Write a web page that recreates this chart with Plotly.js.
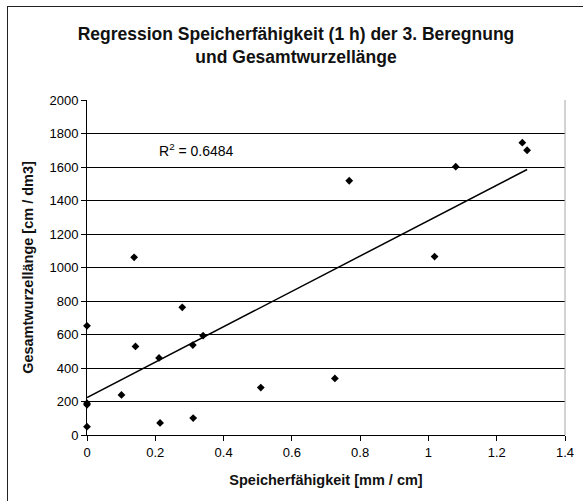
<!DOCTYPE html>
<html>
<head>
<meta charset="utf-8">
<script src="https://cdn.plot.ly/plotly-3.0.1.min.js"></script>
<style>
  html, body { margin: 0; padding: 0; background: #fff; }
  #chart { position: absolute; left: 0; top: 0; width: 583px; height: 501px; }
  #frame { position: absolute; left: 7px; top: 6px; width: 620px; height: 540px;
           border: 1px solid #222; pointer-events: none; }
</style>
</head>
<body>
<div id="chart"></div>
<div id="frame"></div>
<script>
// Speicherfähigkeit [mm / cm]
const speicher = [0.768, 0.138, 0, 0.279, 0.142, 0.340, 0.310, 0.211, 0.101, 0, 0, 0,
                  0.214, 0.311, 0.509, 0.726, 1.080, 1.275, 1.289, 1.018];
// Gesamtwurzellänge [cm / dm3]
const wurzel = [1518, 1061, 652, 762, 529, 593, 537, 460, 239, 190, 180, 50,
                72, 101, 283, 338, 1602, 1745, 1700, 1065];
const r2Text = 'R<sup>2</sup> = 0.6484';
const titleText = 'Regression Speicherfähigkeit (1 h) der 3. Beregnung<br>und Gesamtwurzellänge';
const xTitle = 'Speicherfähigkeit [mm / cm]';
const yTitle = 'Gesamtwurzellänge [cm / dm3]';

// linear least-squares trendline derived from data
const n = speicher.length;
const mx = speicher.reduce((a, b) => a + b, 0) / n;
const my = wurzel.reduce((a, b) => a + b, 0) / n;
let sxy = 0, sxx = 0;
for (let i = 0; i < n; i++) { sxy += (speicher[i] - mx) * (wurzel[i] - my); sxx += (speicher[i] - mx) ** 2; }
const slope = sxy / sxx;
const intercept = my - slope * mx;
const xMin = Math.min(...speicher), xMax = Math.max(...speicher);
const trendX = [xMin, xMax];
const trendY = trendX.map(v => intercept + slope * v);

const font = 'Liberation Sans, Arial, sans-serif';

const data = [
  { x: trendX, y: trendY, type: 'scatter', mode: 'lines',
    line: { color: '#000', width: 1.5 }, hoverinfo: 'skip', showlegend: false },
  { x: speicher, y: wurzel, type: 'scatter', mode: 'markers', cliponaxis: false,
    marker: { symbol: 'diamond', size: 6, color: '#000' }, showlegend: false }
];

const layout = {
  width: 583, height: 501,
  margin: { l: 87, r: 18, t: 100, b: 66 },
  paper_bgcolor: '#fff', plot_bgcolor: '#fff',
  font: { family: font, size: 13, color: '#000' },
  title: { text: titleText, font: { family: font, size: 17.5, color: '#111', weight: 'bold' },
           x: 296 / 583, xanchor: 'center', xref: 'container',
           y: 1 - 40 / 501, yanchor: 'top', yref: 'container' },
  xaxis: {
    range: [0, 1.4], dtick: 0.2, tick0: 0,
    showgrid: false, zeroline: false,
    showline: true, linecolor: '#000', linewidth: 1,
    ticks: 'outside', ticklen: 5, tickcolor: '#000',
    tickfont: { family: font, size: 13, color: '#000' },
    title: { text: xTitle, font: { family: font, size: 14.5, color: '#111', weight: 'bold' }, standoff: 16 }
  },
  yaxis: {
    range: [0, 2000], dtick: 200, tick0: 0,
    showgrid: true, gridcolor: '#000', gridwidth: 1,
    zeroline: false,
    showline: true, linecolor: '#000', linewidth: 1,
    ticks: 'outside', ticklen: 5, tickcolor: '#000',
    tickfont: { family: font, size: 13, color: '#000' },
    title: { text: yTitle, font: { family: font, size: 14.5, color: '#111', weight: 'bold' }, standoff: 12 }
  },
  shapes: [
    { type: 'line', xref: 'paper', yref: 'paper', x0: 1, x1: 1, y0: 0, y1: 1,
      line: { color: '#a6a6a6', width: 1 } }
  ],
  annotations: [
    { text: r2Text, xref: 'x', yref: 'y', x: 0.205, y: 1700, xanchor: 'left', yanchor: 'middle',
      showarrow: false, font: { family: font, size: 14, color: '#000' } }
  ]
};

Plotly.newPlot('chart', data, layout, { staticPlot: true, displayModeBar: false });
</script>
</body>
</html>
